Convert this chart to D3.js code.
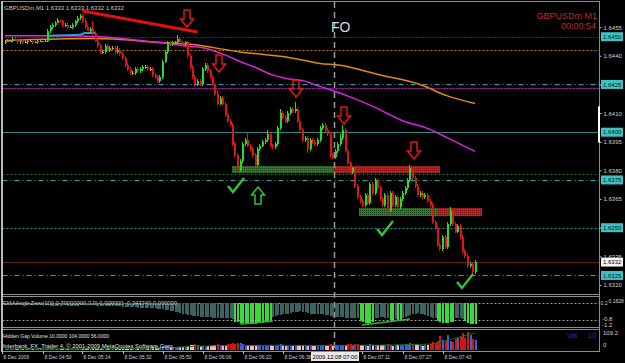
<!DOCTYPE html>
<html>
<head>
<meta charset="utf-8">
<style>
body { margin: 0; background: #000; }
svg { display: block; font-family: "Liberation Sans", Arial, sans-serif; }
</style>
</head>
<body>
<div id="container"></div>
<script src="https://cdn.jsdelivr.net/npm/d3@7"></script>
<script>
// ---- data (prices in points, 1 point = 0.0001) ----
const firstOpenPts = 16447;
const closePts = [
  16447,16448,16448,16449,16448,16447,16448,16447,16447,16448,
  16448,16447,16447,16448,16448,16448,16448,
  16453,16455,16456,16457,16459,16458,16456,16456,16455,16455,16456,16458,16460,16461,16458,16455,16453,16454,16452,
  16448,16445,16442,16442,16445,16443,16444,16444,16442,16443,16441,16439,16435,16433,16431,16431,16433,16432,16433,16434,16434,16433,16433,16430,16429,16427,
  16429,16437,16442,16447,16446,16447,16447,16449,16447,16446,16447,16440,16434,16429,16425,16427,16425,
  16433,16435,16432,16429,16425,16420,16415,16418,16415,16409,16406,16404,16394,16388,16380,16385,16394,16396,16393,16391,16388,16383,
  16391,16393,16395,16396,16399,16393,16392,16394,16402,16410,16408,16406,16410,16412,16411,16412,16406,16401,16396,16397,16391,16396,16395,16394,16396,16402,16404,16401,16399,
  16388,16387,16390,16394,16397,16401,16390,16384,16379,16381,16372,16366,16364,16362,16367,16363,16373,16368,16375,16371,16365,16362,16367,16359,16368,16362,16366,16361,16365,
  16368,16371,16375,16381,16376,16372,16367,16368,16366,16367,16364,16362,16353,16350,16341,16339,16345,16340,16352,16359,16352,16348,16351,16345,16338,16335,16330,16331,16327,16332
];
const wickUp = [
  1,1,0,1,1,1,0,1,1,1, 1,0,1,1,1,0,1,1,1,1, 1,1,0,1,1,1,1,1,1,1, 1,1,2,1,1,4,1,1,1,1,
  1,1,1,1,1,2,1,1,1,1, 1,1,1,1,1,1,1,1,1,1, 1,1,1,1,1,1,1,1,1,2, 1,1,1,1,1,1,1,1,1,1,
  1,1,1,1,1,2,1,1,1,1, 1,1,1,1,1,1,1,4,1,1, 1,1,1,1,1,2,1,1,1,1, 2,1,1,1,1,1,4,1,1,1,
  1,1,1,1,1,1,1,1,1,1, 1,1,1,1,2,3,1,1,1,1, 1,1,1,1,1,1,1,1,1,1, 1,1,1,1,1,1,1,1,1,1,
  1,1,2,1,1,1,1,1,1,1, 1,1,1,1,1,1,1,1,2,1, 1,1,1,1,1,1,1,1,1
];
const wickDn = [
  1,0,1,1,0,1,1,1,0,1, 1,1,0,1,1,1,0,1,1,1, 1,0,1,1,1,1,0,1,1,1, 1,1,1,0,1,1,1,1,1,1,
  1,1,1,1,1,1,1,1,1,1, 1,1,1,1,1,1,1,1,1,1, 1,1,1,1,1,1,1,1,1,1, 1,1,1,1,1,1,1,1,1,1,
  1,1,1,1,1,1,1,1,1,1, 1,1,1,1,1,1,1,1,1,1, 1,1,1,1,1,1,1,1,1,1, 1,1,1,1,1,1,1,1,1,1,
  1,2,1,1,1,1,1,1,1,1, 1,1,1,1,1,1,1,1,1,1, 1,1,1,1,1,1,1,1,1,1, 1,1,1,1,1,1,1,1,1,1,
  1,1,1,1,1,1,1,1,1,1, 1,1,1,1,1,1,1,1,1,1, 1,1,1,1,1,1,1,2,1
];

// moving averages (bar index, price)
const maOrangeBars = [0, 36, 62, 74, 94, 114, 126, 134, 150, 166, 177, 188];
const maOrange = [1.6448, 1.6449, 1.6447, 1.6446, 1.6442, 1.6439, 1.6436, 1.6435, 1.6430, 1.6425, 1.6419, 1.6415];
const maMagentaBars = [0, 22, 38, 54, 62, 73, 80, 87, 94, 100, 107, 113, 119, 126, 137, 148, 159, 169, 177, 188];
const maMagenta = [1.64505, 1.64505, 1.6450, 1.6448, 1.6447, 1.6445, 1.6444, 1.6441, 1.6437, 1.6434, 1.6430,
                   1.6428, 1.6427, 1.6424, 1.6419, 1.6413, 1.6406, 1.6402, 1.6397, 1.6390];
const maBlueBars = [17, 30, 32, 36];
const maBlue = [1.64505, 1.64510, 1.64520, 1.64520];

// horizontal levels
const levelPrices = [1.6450, 1.6443, 1.6425, 1.6423, 1.6400, 1.6378, 1.6375, 1.6350, 1.6332, 1.6325];
const levelKinds  = ["teal", "orange", "cyanDash", "magenta", "tealSolid", "green", "cyanDash", "cyanDot", "red", "cyanDash"];
const priceTicks = [1.6455, 1.6440, 1.6425, 1.6410, 1.6395, 1.6380, 1.6365, 1.6350, 1.6335, 1.6320];
const levelLabels = [1.6450, 1.6425, 1.6400, 1.6375, 1.6350, 1.6325];
const lastPrice = 1.6332;

// supply / demand zones [bar0, bar1, priceTop, priceBottom]
const greenZones = [[90.8, 131.2, 1.63823, 1.63786], [141.6, 172.8, 1.63603, 1.63561]];
const redZones = [[131.2, 174, 1.63823, 1.63786], [172.8, 190.8, 1.63603, 1.63561]];

// annotations (bar index, price at top of mark)
const downArrowBars = [72.8, 85.6, 116.4, 135.6, 163.6];
const downArrowPrices = [1.64640, 1.64404, 1.64273, 1.64132, 1.63949];
const upArrowBars = [101.2];
const upArrowPrices = [1.63713];
const checkBars = [92.4, 152, 184];
const checkPrices = [1.63718, 1.63493, 1.63216];
const trendBars = [31, 77];
const trendPrices = [1.64635, 1.64525];
const foBar = 131.6;

// EMAAngleZero histogram
const angle = [
  0.10,0.09,0.10,0.08,0.09,0.10,0.11,0.10,0.09,0.08,0.08,0.09,0.10,0.10,0.09,0.08,0.07,0.06,0.05,0.04,0.04,
  0.05,0.05,0.06,0.06,0.05,0.05,0.04,0.04,0.05,0.06,0.07,0.08,0.08,0.08,0.07,0.06,0.05,0.03,0.02,0.01,0.00,0.00,0.01,0.02,0.01,0.00,-0.01,-0.02,-0.03,-0.04,
  -0.05,-0.06,-0.07,-0.08,-0.09,-0.10,-0.10,-0.11,-0.12,-0.12,-0.13,-0.13,
  -0.15,-0.18,-0.21,-0.24,-0.27,-0.30,-0.34,-0.38,-0.42,-0.46,-0.50,
  -0.52,-0.54,-0.56,-0.58,-0.60,
  -0.60,-0.62,-0.63,-0.64,-0.65,-0.66,-0.67,-0.68,-0.68,-0.69,-0.70,-0.70,-0.72,
  -0.88,-0.92,-0.96,-0.99,-1.01,-1.03,-1.04,-1.03,-1.01,-0.99,-0.97,-0.94,-0.91,-0.88,-0.84,
  -0.62,-0.56,-0.52,-0.49,-0.46,-0.44,-0.42,-0.40,
  -0.35,-0.32,-0.30,-0.29,
  -0.32,-0.35,-0.38,-0.42,-0.44,-0.46,-0.44,-0.42,-0.44,-0.48,-0.52,-0.56,-0.60,
  -0.61,-0.62,-0.63,-0.64,-0.65,-0.66,-0.67,-0.68,-0.69,-0.70,
  -0.86,-0.93,-0.98,-1.00,-0.98,-0.93,
  -0.70,-0.66,-0.64,-0.64,-0.66,-0.70,
  -0.82,-0.84,
  -0.72,
  -0.82,-0.83,
  -0.68,-0.62,-0.56,-0.50,-0.46,-0.42,-0.40,-0.42,-0.46,-0.52,-0.57,-0.62,-0.66,-0.70,
  -0.85,-0.92,-0.97,-0.99,-0.97,-0.93,-0.88,
  -0.70,-0.66,-0.67,-0.72,
  -0.87,-0.95,-1.00,-1.03,-1.05
];
const angleThreshold = -0.8;
const angleLevels = [0.2, -0.8];
const angleTrendA = [[94, -1.03], [107, -0.86]];
const angleTrendB = [[142.8, -1.08], [162, -0.73]];

// Hidden Gap Volume
const volume = [
  3,2,4,2,3,3,5,2,2,3, 4,2,2,3,3,4,2,6,9,7, 5,4,4,5,4,3,3,4,5,6, 4,5,6,7,5,6,9,10,7,6,
  5,6,4,5,6,5,4,6,7,6, 6,8,7,9,8,10,9,8,10,12, 11,9,12,18,20,22,15,12,14,16, 14,12,15,22,28,25,30,26,20,18,
  16,18,20,24,26,30,28,25,27,30, 32,38,35,40,36,30,28,25,24,26, 28,26,24,22,20,22,24,18,20,28, 30,26,22,20,18,20,22,25,28,24,
  26,22,20,18,20,22,24,20,18,24, 30,28,26,22,20,24,28,30,32,26, 34,30,28,26,24,22,30,26,28,24, 26,28,24,30,26,22,24,28,26,24,
  30,32,36,30,28,26,24,22,26,28, 30,45,40,50,79,55,48,85,52,45, 60,70,73,97,65,104,85,60,56
];
const volMaBars = [0, 40, 60, 75, 90, 110, 130, 150, 170, 176, 182, 188];
const volMa = [4, 5, 8, 18, 24, 25, 24, 26, 32, 50, 75, 98];

const timeTickBars = [-1, 15, 31, 47, 63, 79, 95, 111, 143, 159, 175];
const timeLabels = ["8 Dec 2009", "8 Dec 04:50", "8 Dec 05:14", "8 Dec 05:32", "8 Dec 05:50", "8 Dec 06:06",
                    "8 Dec 06:22", "8 Dec 06:38", "8 Dec 07:11", "8 Dec 07:27", "8 Dec 07:43"];
const foTimeLabel = "2009.12.08 07:00";

// ---- layout ----
const W = 625, H = 363;
const L = 2.5, R = 599.5;
const svg = d3.select("#container").append("svg").attr("width", W).attr("height", H);
svg.append("rect").attr("width", W).attr("height", H).attr("fill", "#000");

const x = d3.scaleLinear().domain([0, 188]).range([5, 475]);
const y = d3.scaleLinear().domain([1.6450, 1.6320]).range([36.7, 285]);
const yA = d3.scaleLinear().domain([0.2, -1.2]).range([303, 327]);
const yV = d3.scaleLinear().domain([0, 109.2]).range([349.5, 331]);

// small text helper
function label(sel, tx, ty, s, fill, size, len) {
    const t = sel.append("text").attr("x", tx).attr("y", ty).text(s)
        .attr("fill", fill).attr("font-size", size);
    if (len) t.attr("textLength", len).attr("lengthAdjust", "spacingAndGlyphs");
    return t;
}

const defs = svg.append("defs");
defs.append("clipPath").attr("id", "mainClip").append("rect")
    .attr("x", 3).attr("y", 2).attr("width", 596).attr("height", 292);
function dotPattern(id, bg, fg) {
    const p = defs.append("pattern").attr("id", id).attr("width", 2).attr("height", 2)
        .attr("patternUnits", "userSpaceOnUse");
    p.append("rect").attr("width", 2).attr("height", 2).attr("fill", bg);
    p.append("rect").attr("width", 1).attr("height", 1).attr("fill", fg);
}
dotPattern("gz", "#2f7a26", "#1d4d18");
dotPattern("rz", "#d01818", "#8c1010");

const main = svg.append("g").attr("clip-path", "url(#mainClip)");

// level lines
const levelStyle = {
    teal:      {c: "#1f8080", d: "1,2"},
    orange:    {c: "#c87a10", d: "2,2"},
    cyanDash:  {c: "#2aa8a8", d: "5,3,1,3"},
    magenta:   {c: "#c020c0", d: "2,1"},
    tealSolid: {c: "#2a8a8a", d: null},
    green:     {c: "#1e6a1e", d: "2,2"},
    cyanDot:   {c: "#2a9a9a", d: "2,2"},
    red:       {c: "#a02828", d: "2,1"}
};
levelPrices.forEach((p, k) => {
    const s = levelStyle[levelKinds[k]];
    main.append("line").attr("x1", L).attr("x2", R)
        .attr("y1", Math.round(y(p)) + 0.5).attr("y2", Math.round(y(p)) + 0.5)
        .attr("stroke", s.c).attr("stroke-width", 1)
        .attr("stroke-dasharray", s.d);
});

// FO vertical line (all panels)
svg.append("line").attr("x1", Math.round(x(foBar)) + 0.5).attr("x2", Math.round(x(foBar)) + 0.5)
    .attr("y1", 2).attr("y2", 351).attr("stroke", "#9a9a9a").attr("stroke-width", 1.5)
    .attr("stroke-dasharray", "6,4");

// zones
greenZones.forEach(z => main.append("rect").attr("x", x(z[0])).attr("width", x(z[1]) - x(z[0]))
    .attr("y", y(z[2])).attr("height", y(z[3]) - y(z[2])).attr("fill", "url(#gz)"));
redZones.forEach(z => main.append("rect").attr("x", x(z[0])).attr("width", x(z[1]) - x(z[0]))
    .attr("y", y(z[2])).attr("height", y(z[3]) - y(z[2])).attr("fill", "url(#rz)"));

// moving averages
const maLine = d3.line().x(d => x(d[0])).y(d => y(d[1])).curve(d3.curveMonotoneX);
main.append("path").datum(maOrangeBars.map((b, k) => [b, maOrange[k]]))
    .attr("d", maLine).attr("fill", "none").attr("stroke", "#e08a10").attr("stroke-width", 1.5);
main.append("path").datum(maMagentaBars.map((b, k) => [b, maMagenta[k]]))
    .attr("d", maLine).attr("fill", "none").attr("stroke", "#e020e0").attr("stroke-width", 1.5);
main.append("path").datum(maBlueBars.map((b, k) => [b, maBlue[k]]))
    .attr("d", maLine).attr("fill", "none").attr("stroke", "#2f9fd0").attr("stroke-width", 2);

// candles
const bars = closePts.map((c, i) => {
    const o = i === 0 ? firstOpenPts : closePts[i - 1];
    return {i, o: o / 1e4, c: c / 1e4,
        h: (Math.max(o, c) + wickUp[i]) / 1e4, l: (Math.min(o, c) - wickDn[i]) / 1e4};
});
const candleColor = d => d.c > d.o ? "#22dd22" : d.c < d.o ? "#e01414" : "#d0a020";
const cg = main.append("g").attr("shape-rendering", "crispEdges");
cg.selectAll("line").data(bars).join("line")
    .attr("x1", d => Math.floor(x(d.i)) + 0.5).attr("x2", d => Math.floor(x(d.i)) + 0.5)
    .attr("y1", d => y(d.h)).attr("y2", d => y(d.l))
    .attr("stroke", candleColor);
cg.selectAll("rect").data(bars).join("rect")
    .attr("x", d => Math.floor(x(d.i)) - 0.5).attr("width", 2)
    .attr("y", d => y(Math.max(d.o, d.c)))
    .attr("height", d => Math.max(1, Math.abs(y(d.o) - y(d.c))))
    .attr("fill", candleColor);

// trendline
main.append("line").attr("x1", x(trendBars[0])).attr("y1", y(trendPrices[0]))
    .attr("x2", x(trendBars[1])).attr("y2", y(trendPrices[1]))
    .attr("stroke", "#e01010").attr("stroke-width", 3);

// arrows & checks
const downArrow = "M-3,0L3,0L3,9L6.5,9L0,17L-6.5,9L-3,9Z";
const upArrow = "M0,0L6.5,8L3,8L3,17L-3,17L-3,8L-6.5,8Z";
downArrowBars.forEach((b, k) => main.append("path").attr("d", downArrow)
    .attr("transform", `translate(${x(b)},${y(downArrowPrices[k])})`)
    .attr("fill", "none").attr("stroke", "#e01818").attr("stroke-width", 1.5));
upArrowBars.forEach((b, k) => main.append("path").attr("d", upArrow)
    .attr("transform", `translate(${x(b)},${y(upArrowPrices[k])})`)
    .attr("fill", "none").attr("stroke", "#34c034").attr("stroke-width", 1.5));
checkBars.forEach((b, k) => main.append("path").attr("d", "M-8,0L-3,6L8,-8")
    .attr("transform", `translate(${x(b)},${y(checkPrices[k])})`)
    .attr("fill", "none").attr("stroke", "#3cc03c").attr("stroke-width", 2.4));

// texts in main panel
label(svg, x(foBar) - 3, 32, "FO", "#d8d8d8", 14);
label(svg, 4, 10, "GBPUSDm,M1  1.6333 1.6333 1.6332 1.6332", "#c8c8c8", 6, 120);
label(svg, 597, 19, "GBPUSDm  M1", "#c0282c", 9).attr("text-anchor", "end");
label(svg, 596, 29, "00:00:54", "#c0282c", 9).attr("text-anchor", "end");

// ---- indicator panel ----
angleLevels.forEach(v => svg.append("line").attr("x1", L).attr("x2", R)
    .attr("y1", Math.round(yA(v)) + 0.5).attr("y2", Math.round(yA(v)) + 0.5)
    .attr("stroke", "#a0a0a0").attr("stroke-dasharray", "2,2"));
svg.append("g").attr("shape-rendering", "crispEdges").selectAll("rect").data(angle).join("rect")
    .attr("x", (d, i) => Math.floor(x(i)))
    .attr("width", 1.5)
    .attr("y", yA(0.2))
    .attr("height", d => Math.max(1, yA(d) - yA(0.2)))
    .attr("fill", d => d <= angleThreshold ? "#3cd83c" : "#3d6262");
[angleTrendA, angleTrendB].forEach(t => svg.append("line")
    .attr("x1", x(t[0][0])).attr("y1", yA(t[0][1])).attr("x2", x(t[1][0])).attr("y2", yA(t[1][1]))
    .attr("stroke", "#30b030").attr("stroke-width", 1.5));
label(svg, 3, 305, "EMAAngleZero(100,0.70000000,3,0) 0.000000 -0.343749 0.000000", "#b8c8c8", 6, 174);

// ---- volume panel ----
svg.append("g").attr("shape-rendering", "crispEdges").selectAll("rect").data(volume).join("rect")
    .attr("x", (d, i) => Math.floor(x(i)) - 0.5)
    .attr("width", 2)
    .attr("y", d => yV(d))
    .attr("height", d => yV(0) - yV(d))
    .attr("fill", (d, i) => bars[i].c >= bars[i].o ? "#3464d8" : (d >= 30 ? "#e01010" : "#f4b8c4"));
svg.append("path").datum(volMaBars.map((b, k) => [b, volMa[k]]))
    .attr("d", d3.line().x(d => x(d[0])).y(d => yV(d[1])).curve(d3.curveMonotoneX))
    .attr("fill", "none").attr("stroke", "#1c6e1c").attr("stroke-width", 1);
label(svg, 3, 338, "Hidden Gap Volume 10.0000 104.0000 56.0000", "#e0e0e0", 6, 106);
label(svg, 3, 348, "Interbank_FX_Trader 4, \u00a9 2001-2009 MetaQuotes Software Corp.", "#e0e0e0", 6, 171);
label(svg, 567, 338, "Val", "#2030c8", 7.5);
label(svg, 588, 338, "10", "#2030c8", 7.5);

// ---- frames ----
const frame = svg.append("g").attr("stroke", "#8c8c8c").attr("shape-rendering", "crispEdges");
[1.5, 294.5, 296.5, 327.5, 329.5, 351.5].forEach(v =>
    frame.append("line").attr("x1", 2).attr("x2", 600).attr("y1", v).attr("y2", v));
frame.append("line").attr("x1", 2).attr("x2", 2).attr("y1", 1).attr("y2", 352).attr("stroke", "#bcbcbc").attr("stroke-width", 1.5);
frame.append("line").attr("x1", 599.5).attr("x2", 599.5).attr("y1", 1).attr("y2", 352);
svg.append("rect").attr("x", 598).attr("width", 2).attr("y", y(1.64135)).attr("height", y(1.63945) - y(1.64135))
    .attr("fill", "#ffffff");

// ---- price axis ----
const pAxis = svg.append("g").attr("transform", "translate(599.5,0)")
    .call(d3.axisRight(y).tickValues(priceTicks).tickFormat(d3.format(".4f")).tickSize(2).tickPadding(2));
pAxis.select(".domain").remove();
pAxis.selectAll("line").attr("stroke", "#c0c0c0");
pAxis.selectAll("text").attr("fill", "#d0d0d0").attr("font-size", 6).attr("font-family", "Liberation Sans, Arial");
levelLabels.forEach(p => {
    const g = svg.append("g").attr("transform", `translate(601,${y(p)})`);
    g.append("rect").attr("x", 0).attr("y", -4.5).attr("width", 22).attr("height", 9).attr("fill", "#40c0c0");
    label(g, 2, 2.2, d3.format(".4f")(p), "#002828", 6);
});
{
    const g = svg.append("g").attr("transform", `translate(601,${y(lastPrice)})`);
    g.append("rect").attr("x", 0).attr("y", -4.5).attr("width", 22).attr("height", 9).attr("fill", "#f4f4f4");
    label(g, 2, 2.2, d3.format(".4f")(lastPrice), "#000", 6);
}

// indicator / volume scale labels
label(svg, 600.5, 305, "0.2", "#d0d0d0", 5);
label(svg, 608.5, 303, "0.1828", "#d0d0d0", 5);
label(svg, 602, 321, "-0.8", "#d0d0d0", 6);
label(svg, 602, 326.5, "-1.2", "#d0d0d0", 6);
label(svg, 603, 335, "109.2", "#d0d0d0", 6);
label(svg, 603, 347, "0", "#d0d0d0", 6);

// ---- time axis ----
timeTickBars.forEach((b, k) => {
    const tx = Math.round(x(b)) + 0.5;
    svg.append("line").attr("x1", tx).attr("x2", tx).attr("y1", 351).attr("y2", 354).attr("stroke", "#c0c0c0");
    label(svg, tx + 1, 359, timeLabels[k], "#d0d0d0", 5);
});
{
    const fx = x(foBar);
    svg.append("rect").attr("x", fx - 23).attr("y", 352).attr("width", 48).attr("height", 9).attr("fill", "#e8e8e8");
    label(svg, fx + 1, 359, foTimeLabel, "#000", 5.8).attr("text-anchor", "middle");
}
</script>
</body>
</html>
